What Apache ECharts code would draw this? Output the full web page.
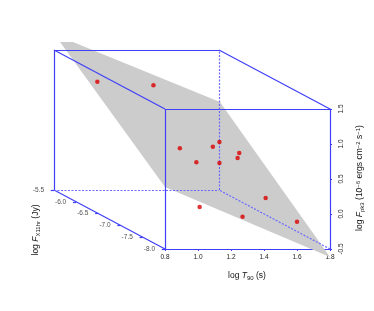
<!DOCTYPE html>
<html><head><meta charset="utf-8">
<script src="https://cdn.jsdelivr.net/npm/echarts@6/dist/echarts.min.js"></script>
<style>html,body{margin:0;padding:0;background:#fff}#c{width:374px;height:311px}</style>
</head><body><div id="c"></div>
<script>
// ---- data ----
// points: projected position on the front (T90 / F_pk) plane
const ptT = [0.39, 0.73, 0.89, 0.99, 1.09, 1.13, 1.13, 1.24, 1.25, 1.41, 1.01, 1.27, 1.60];
const ptF = [1.89, 1.84, 0.94, 0.74, 0.96, 1.03, 0.73, 0.80, 0.87, 0.23, 0.10, -0.04, -0.11];
// fitted plane outline (projected T90 / F_pk)
const planeT = [0.164, 0.242, 1.133, 1.80, 0.80];
const planeF = [2.457, 2.457, 1.60, -0.614, 0.386];
// axis ranges and ticks
const tRange = [0.8, 1.8];
const fRange = [-0.5, 1.5];
const fxRange = [-8.0, -5.5];
const tTicks = [0.8, 1.0, 1.2, 1.4, 1.6, 1.8];
const fTicks = [-0.5, 0.0, 0.5, 1.0, 1.5];
const fxTicks = [-8.0, -7.5, -7.0, -6.5, -6.0, -5.5];

// ---- projection of the depth axis (layout) ----
const KX = -111 / 2.5 / 165;
const KY = 59 / 2.5 / 70;
function proj(t, fx, f) { return [t + (fx - fxRange[0]) * KX, f + (fx - fxRange[0]) * KY]; }

const BLUE = '#3f3ff8';
const DASH = '#6a6aff';
const FONT = 'Liberation Sans, Arial, sans-serif';

const t0 = tRange[0], t1 = tRange[1], f0 = fRange[0], f1 = fRange[1], d0 = fxRange[0], d1 = fxRange[1];
const solidEdges = [
  [[t1,d0,f1],[t0,d0,f1]], [[t0,d0,f1],[t0,d0,f0]],
  [[t0,d1,f1],[t1,d1,f1]], [[t0,d1,f0],[t0,d1,f1]],
  [[t0,d0,f0],[t0,d1,f0]], [[t0,d0,f1],[t0,d1,f1]], [[t1,d0,f1],[t1,d1,f1]]
];
const dashEdges = [
  [[t0,d1,f0],[t1,d1,f0]], [[t1,d1,f0],[t1,d1,f1]], [[t1,d0,f0],[t1,d1,f0]]
];
function edgeData(list) { return list.map(e => ({ coords: [proj(...e[0]), proj(...e[1])] })); }

// depth-axis tick marks
const fxTickLines = fxTicks.map(v => { const p = proj(t0, v, f0); return { coords: [[p[0] - 0.02, p[1]], p] }; });

const chart = echarts.init(document.getElementById('c'), null, { renderer: 'canvas' });
const tickLabel = { fontSize: 6.5, color: '#222', fontFamily: FONT };
chart.setOption({
  animation: false,
  backgroundColor: '#fff',
  grid: [
    { left: 165, top: 109, width: 165, height: 140 },
    { left: 0, top: 0, width: 374, height: 311 }
  ],
  xAxis: [
    { gridIndex: 0, type: 'value', min: tRange[0], max: tRange[1], interval: 0.2,
      axisLine: { show: true, onZero: false, lineStyle: { color: BLUE, width: 1.2 } },
      axisTick: { show: true, length: 2, lineStyle: { color: BLUE } },
      splitLine: { show: false },
      axisLabel: Object.assign({ margin: 5, formatter: v => v.toFixed(1) }, tickLabel) },
    { gridIndex: 1, type: 'value', min: -0.2, max: 0.8 + 209 / 165, show: false }
  ],
  yAxis: [
    { gridIndex: 0, type: 'value', position: 'right', min: fRange[0], max: fRange[1], interval: 0.5,
      axisLine: { show: true, onZero: false, lineStyle: { color: BLUE, width: 1.2 } },
      axisTick: { show: true, length: 2, lineStyle: { color: BLUE } },
      splitLine: { show: false },
      axisLabel: Object.assign({ margin: 8, rotate: 90, formatter: v => v.toFixed(1) }, tickLabel) },
    { gridIndex: 1, type: 'value', min: -0.5 - 62 / 70, max: -0.5 + 249 / 70, show: false }
  ],
  series: [
    { type: 'custom', xAxisIndex: 1, yAxisIndex: 1, z: 1, silent: true,
      data: [0],
      renderItem: function (params, api) {
        const pts = planeT.map((t, i) => api.coord([t, planeF[i]]));
        return { type: 'polygon', shape: { points: pts }, style: { fill: '#cccccc', stroke: null } };
      } },
    { type: 'lines', coordinateSystem: 'cartesian2d', xAxisIndex: 1, yAxisIndex: 1, z: 2, silent: true,
      lineStyle: { color: BLUE, width: 1.2, opacity: 1 }, data: edgeData(solidEdges).concat(fxTickLines) },
    { type: 'lines', coordinateSystem: 'cartesian2d', xAxisIndex: 1, yAxisIndex: 1, z: 2, silent: true,
      lineStyle: { color: DASH, width: 1.2, opacity: 1, type: [2, 1.5] }, data: edgeData(dashEdges) },
    { type: 'scatter', xAxisIndex: 1, yAxisIndex: 1, z: 3, silent: true,
      symbolSize: 0,
      data: fxTicks.map(v => proj(t0, v, f0).concat([v])),
      label: Object.assign({ show: true, position: 'left', distance: 10,
        formatter: p => p.value[2].toFixed(1) }, tickLabel) },
    { type: 'scatter', xAxisIndex: 1, yAxisIndex: 1, z: 4, silent: true,
      symbol: 'circle', symbolSize: 4.5, itemStyle: { color: '#d90000' },
      data: ptT.map((t, i) => [t, ptF[i]]) }
  ],
  graphic: [
    { type: 'text', x: 247, y: 276, silent: true,
      style: { text: 'log {i|T}{s|90} (s)', fontSize: 8.5, fontFamily: FONT, fill: '#111',
        align: 'center', verticalAlign: 'middle',
        rich: { i: { fontStyle: 'italic', fontSize: 8.5, fontFamily: FONT },
                s: { fontSize: 6, fontFamily: FONT, verticalAlign: 'bottom', padding: [4, 0, 0, 0] } } } },
    { type: 'text', x: 360, y: 178, rotation: Math.PI / 2, silent: true,
      style: { text: 'log {i|F}{s|pk3} (10{p|−6} ergs cm{p|−2} s{p|−1})', fontSize: 8.5, fontFamily: FONT, fill: '#111',
        align: 'center', verticalAlign: 'middle',
        rich: { i: { fontStyle: 'italic', fontSize: 8.5, fontFamily: FONT },
                s: { fontSize: 6, fontFamily: FONT, verticalAlign: 'bottom', padding: [4, 0, 0, 0] },
                p: { fontSize: 6, fontFamily: FONT, verticalAlign: 'top', padding: [0, 0, 4, 0] } } } },
    { type: 'text', x: 36, y: 230, rotation: Math.PI / 2, silent: true,
      style: { text: 'log {i|F}{s|X11hr} (Jy)', fontSize: 8.5, fontFamily: FONT, fill: '#111',
        align: 'center', verticalAlign: 'middle',
        rich: { i: { fontStyle: 'italic', fontSize: 8.5, fontFamily: FONT },
                s: { fontSize: 6, fontFamily: FONT, verticalAlign: 'bottom', padding: [4, 0, 0, 0] } } } }
  ]
});
</script></body></html>
